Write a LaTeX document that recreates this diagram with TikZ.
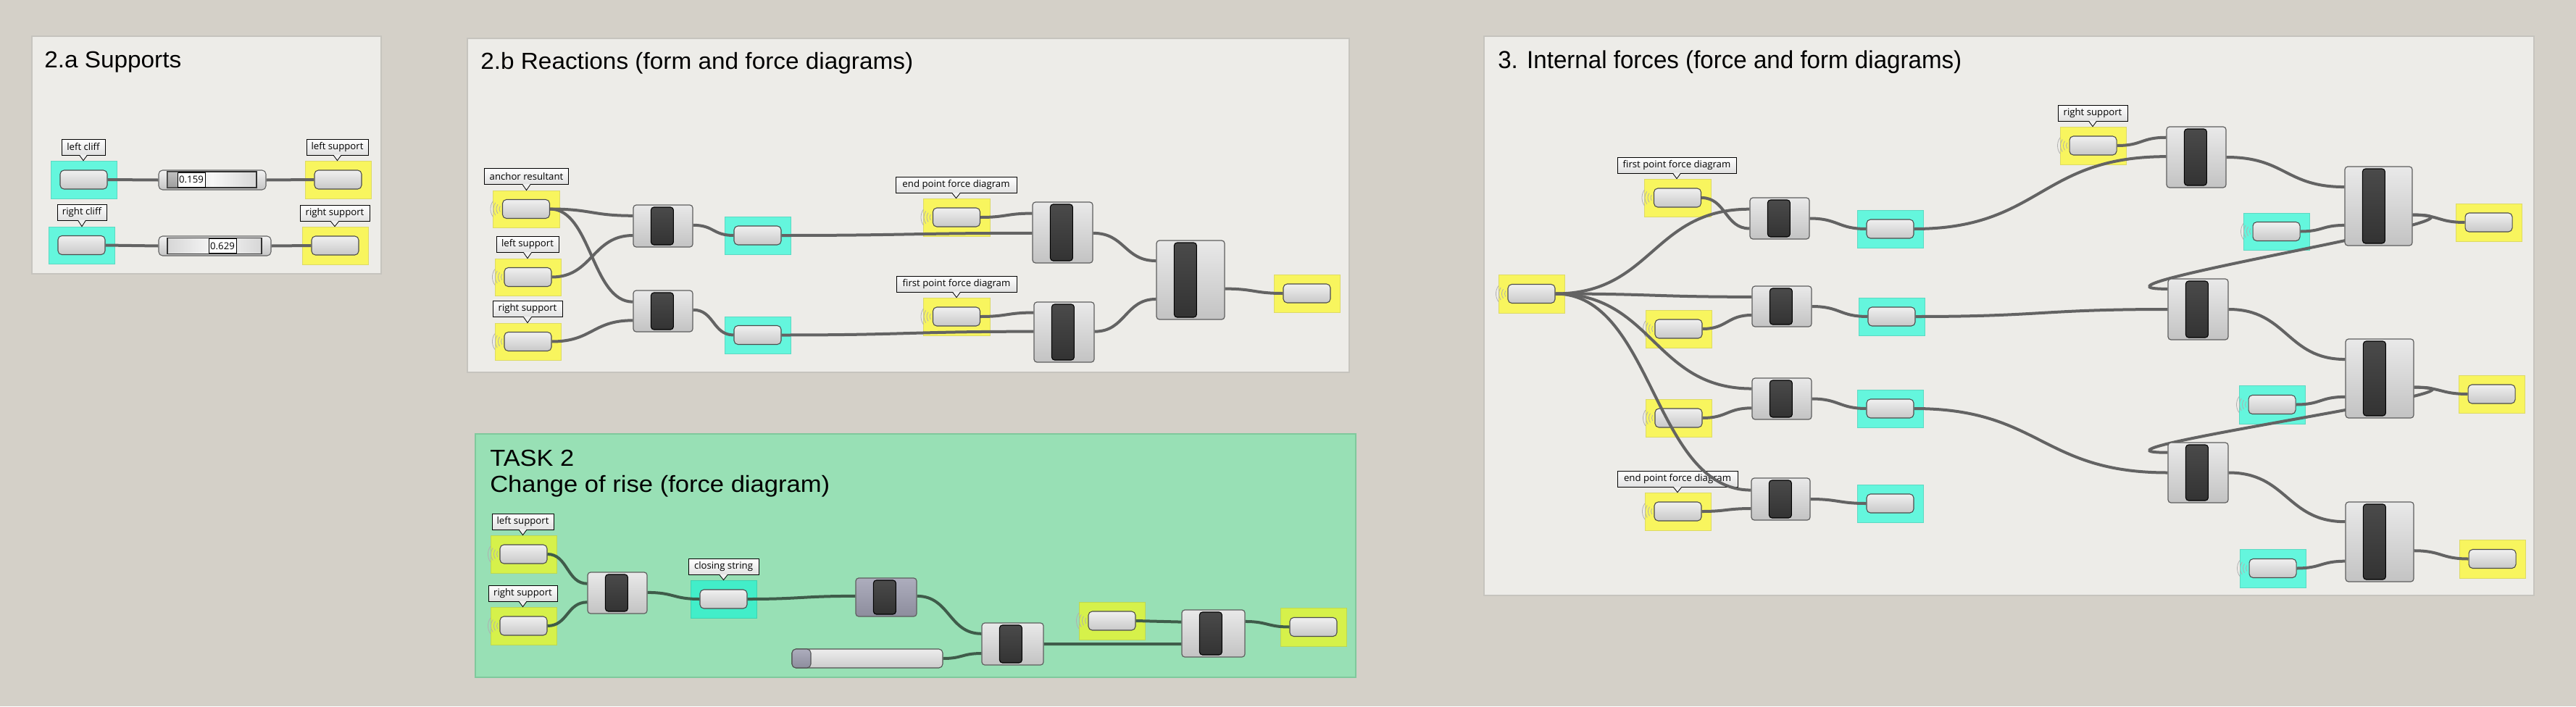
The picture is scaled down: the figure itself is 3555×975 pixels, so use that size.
\documentclass[tikz,border=0pt]{standalone}
\usepackage{fontspec}
\usepackage{graphicx}
\setmainfont{Liberation Sans}
\newfontfamily\lblfont{Open Sans}
\usetikzlibrary{calc}
\pgfdeclarelayer{bgl}
\pgfdeclarelayer{wl}
\pgfsetlayers{bgl,wl,main}
\newdimen\pxu \pxu=0.75pt
\definecolor{bg}{HTML}{D4D0C8}
\definecolor{panelfill}{HTML}{EDECE8}
\definecolor{panelline}{HTML}{C6C4BE}
\definecolor{greenfill}{HTML}{98E0B5}
\definecolor{greenline}{HTML}{7FC99C}
\definecolor{yfill}{HTML}{F8F55E}
\definecolor{yline}{HTML}{DDDA66}
\definecolor{cyfill}{HTML}{64F6DD}
\definecolor{cyline}{HTML}{5CD9C2}
\definecolor{lfill}{HTML}{D6F14A}
\definecolor{lline}{HTML}{BCD754}
\definecolor{gcyfill}{HTML}{42EEC9}
\definecolor{gcyline}{HTML}{3CD3B0}
\definecolor{wirec}{HTML}{636363}
\definecolor{gwirec}{HTML}{3F5C4A}
\definecolor{compTop}{HTML}{E9E9E9}
\definecolor{compBot}{HTML}{C3C3C3}
\definecolor{compline}{HTML}{5E5E5E}
\definecolor{barTop}{HTML}{4A4A4A}
\definecolor{barBot}{HTML}{333333}
\definecolor{pillTop}{HTML}{F0F0F0}
\definecolor{pillBot}{HTML}{C8C8C8}
\definecolor{pillline}{HTML}{4C4C4C}
\definecolor{disTop}{HTML}{ADADBD}
\definecolor{disBot}{HTML}{8D8D9D}
\definecolor{lblBot}{HTML}{E0E0E0}
\definecolor{arcc}{HTML}{B0B0B0}
\tikzset{
  sz/.style 2 args={minimum width=(#1)*0.75pt, minimum height=(#2)*0.75pt},
  panel/.style={draw=panelline, fill=panelfill, line width=1.2pt, inner sep=0, anchor=north west},
  panelg/.style={draw=greenline, fill=greenfill, line width=1.2pt, inner sep=0, anchor=north west},
  titletext/.style={anchor=base west, inner sep=0},
  ybox/.style={fill=yfill, draw=yline, line width=0.6pt, inner sep=0},
  cybox/.style={fill=cyfill, draw=cyline, line width=0.6pt, inner sep=0},
  lbox/.style={fill=lfill, draw=lline, line width=0.6pt, inner sep=0},
  gcbox/.style={fill=gcyfill, draw=gcyline, line width=0.6pt, inner sep=0},
  pill/.style={rounded corners=4pt, draw=pillline, line width=0.8pt, top color=pillTop, bottom color=pillBot, sz={65}{26}, inner sep=0},
  comp/.style={rounded corners=3pt, draw=compline, line width=0.9pt, top color=compTop, bottom color=compBot, inner sep=0},
  dis/.style={top color=disTop, bottom color=disBot},
  bar/.style={rounded corners=3pt, draw=black, line width=0.8pt, top color=barTop, bottom color=barBot, inner sep=0},
  lbl/.style={draw=black, line width=0.6pt, top color=white, bottom color=lblBot, inner sep=0, sz={60}{22}, font=\lblfont\fontsize{9.9}{11}\selectfont, text=black},
  valbox/.style={draw=black, line width=0.6pt, fill=white, inner sep=0, font=\lblfont\fontsize{9.9}{11}\selectfont},
  sliderbody/.style={rounded corners=4pt, draw=black!62, line width=0.8pt, top color=white!95!black, bottom color=white!77!black, inner sep=0},
  track/.style={draw=black!80, line width=0.8pt, left color=white!84!black, right color=white!84!black, middle color=white!97!black, inner sep=0},
  grip/.style={draw=black!60, line width=0.5pt, top color=white!75!black, bottom color=white!62!black, inner sep=0},
  slidertwo/.style={rounded corners=4pt, draw=black!68, line width=0.8pt, top color=white!93!black, bottom color=white!80!black, inner sep=0},
  griptwo/.style={rounded corners=4pt, draw=black!68, line width=0.8pt, top color=disTop, bottom color=disBot, inner sep=0},
  wire/.style={draw=wirec, line width=3pt},
  gw/.style={draw=gwirec},
  warc/.style={draw=arcc, line width=0.6pt}
}
\newcommand\Ttl[3][24]{\resizebox{#2\pxu}{\height}{\fontsize{#1}{#1}\selectfont #3}}
\newcommand\hub[6]{\node[#1,sz={#5}{#6}] (#2) at (#3,#4) {};
  \node[pill] (#2p) at (#2.center) {};}
\newcommand\comp[6][]{\node[comp,#1,sz={#5}{#6}] (#2) at (#3,#4) {};
  \node[bar,sz={31}{#6-6}] (#2b) at ($(#2.west)+(40.5,0)$) {};}
\newcommand\lbl[6]{\node[lbl, minimum width=#5*0.75pt] (#1) at (#3,#4) {#6};
  \fill[white!94!black] ([xshift=-4pt,yshift=0.7pt]#1.south) -- (#1.south |- #2.north) -- ([xshift=4pt,yshift=0.7pt]#1.south) -- cycle;
  \draw[line width=0.6pt] ([xshift=-4pt]#1.south) -- (#1.south |- #2.north) -- ([xshift=4pt]#1.south);}
\newcommand\wl[1]{\foreach \rr in {7,11,15,19}{\draw[warc] ($(#1.west)+(3,0)$) ++(145:\rr) arc[start angle=145,end angle=215,radius=\rr];}}
\newcommand\wire[4][]{\draw[wire,#1] #2 .. controls +(#4,0) and +(-#4,0) .. #3;}
\begin{document}
\begin{tikzpicture}[x=0.75pt,y=-0.75pt]
\begin{pgfonlayer}{bgl}
\fill[bg] (0,0) rectangle (3555,975);
\useasboundingbox (0,0) rectangle (3555,975);
% ---------- panels
\node[panel, sz={482}{328}] (p2a) at (43,49) {};
\node[panel, sz={1217}{461}] (p2b) at (644,52) {};
\node[panelg, sz={1215}{336}] (pt2) at (655,598) {};
\node[panel, sz={1449}{772}] (p3) at (2047,49) {};
\node[titletext] (t2a) at (61,93) {\Ttl{189}{2.a Supports}};
\node[titletext] (t2b) at (663,95) {\Ttl{597}{2.b Reactions (form and force diagrams)}};
\node[titletext] (tt2a) at (676,643) {\Ttl{116}{TASK 2}};
\node[titletext] (tt2b) at (676,679) {\Ttl{469}{Change of rise (force diagram)}};
\node[titletext] (t3) at (2067,94) {\Ttl[25.5]{640}{3. Internal forces (force and form diagrams)}};
% ---------- 2.a
\hub{cybox}{lc}{115.5}{248}{91}{52}
\hub{ybox}{ls}{466.5}{248}{91}{52}
\hub{cybox}{rc}{112.5}{338.5}{91}{51}
\hub{ybox}{rs}{462.5}{339}{91}{52}
\lbl{lcl}{lc}{115}{203}{60}{left cliff}
\lbl{lsl}{ls}{465.5}{203}{85}{left support}
\lbl{rcl}{rc}{113}{293}{68}{right cliff}
\lbl{rsl}{rs}{462}{294.5}{96}{right support}
% ---------- 2.b
\hub{ybox}{ar}{726}{288.5}{92}{51}
\hub{ybox}{bl}{728.5}{382.5}{91}{51}
\hub{ybox}{br}{728.5}{471.5}{91}{51}
\hub{cybox}{bca}{1045.5}{325}{91}{52}
\hub{cybox}{bcb}{1045.5}{462.5}{91}{51}
\hub{ybox}{ep}{1320}{300}{92}{52}
\hub{ybox}{fp}{1320}{437}{92}{52}
\hub{ybox}{bo}{1803.5}{405}{91}{52}
\wl{arp}\wl{blp}\wl{brp}\wl{epp}\wl{fpp}
\lbl{arl}{ar}{726.5}{243.5}{116}{anchor resultant}
\lbl{bll}{bl}{728}{337.5}{86}{left support}
\lbl{brl}{br}{728}{426.5}{96}{right support}
\lbl{epl}{ep}{1319.5}{255.5}{167}{end point force diagram}
\lbl{fpl}{fp}{1320}{392}{166}{first point force diagram}
% ---------- TASK 2
\hub{lbox}{tls}{722.5}{765}{91}{52}
\hub{lbox}{trs}{722.5}{864}{91}{52}
\hub{gcbox}{tcs}{998.5}{827}{91}{52}
\hub{lbox}{td}{1534.5}{857}{91}{52}
\hub{lbox}{tf}{1812.5}{865.5}{91}{53}
\wl{tlsp}\wl{trsp}\wl{tdp}
\lbl{tlsl}{tls}{721.5}{720}{85}{left support}
\lbl{trsl}{trs}{721.5}{819}{95}{right support}
\lbl{tcsl}{tcs}{998.5}{782.5}{97}{closing string}
% ---------- 3
\hub{ybox}{src}{2113.5}{405.5}{91}{53}
\hub{ybox}{ya}{2315}{273}{92}{52}
\hub{ybox}{yb}{2316.5}{454}{91}{52}
\hub{ybox}{yc}{2316.5}{577}{91}{52}
\hub{ybox}{yd}{2315.5}{706}{91}{52}
\hub{cybox}{ha}{2608.5}{316}{91}{52}
\hub{cybox}{hb}{2610.5}{437}{91}{52}
\hub{cybox}{hc}{2608.5}{564}{91}{52}
\hub{cybox}{hd}{2608.5}{695}{91}{52}
\hub{ybox}{rsy}{2888.5}{201}{91}{52}
\hub{cybox}{ca}{3141.5}{319.5}{91}{51}
\hub{cybox}{cb}{3135.5}{558.5}{91}{53}
\hub{cybox}{cc}{3136.5}{784.5}{91}{53}
\hub{ybox}{oa}{3434.5}{307}{91}{52}
\hub{ybox}{ob}{3438.5}{544}{91}{52}
\hub{ybox}{oc}{3439.5}{771.5}{91}{53}
\wl{srcp}\wl{yap}\wl{ybp}\wl{ycp}\wl{ydp}\wl{rsyp}\wl{cap}\wl{cbp}\wl{ccp}
\lbl{yal}{ya}{2314}{228}{164}{first point force diagram}
\lbl{ydl}{yd}{2315}{661.5}{166}{end point force diagram}
\lbl{rsyl}{rsy}{2888}{156}{96}{right support}
\end{pgfonlayer}
% ---------- components (main layer)
% 2.a sliders
\node[sliderbody, sz={148}{27}] (sa) at (293,248.5) {};
\node[track, sz={123}{22}] (sat) at (292.5,248) {};
\node[grip, sz={14}{21}] (sag) at (238,248) {};
\node[valbox, sz={38}{20}] (sav) at (264,248) {0.159};
\node[sliderbody, sz={155}{27}] (sb) at (296.5,339.5) {};
\node[track, sz={130}{22}] (sbt) at (296,339.5) {};
\node[valbox, sz={38}{20}] (sbv) at (307,339.5) {0.629};
% 2.b
\comp{ca1}{915}{312}{82}{58}
\comp{ca2}{915}{429.5}{82}{57}
\comp{ca3}{1466.5}{321}{83}{84}
\comp{ca4}{1468.5}{458.5}{83}{83}
\comp{ca5}{1643}{386.5}{94}{109}
% TASK 2
\comp{ta}{852}{818.5}{82}{57}
\comp[dis]{tb}{1223}{824.5}{84}{53}
\comp{tc}{1397.5}{889}{85}{58}
\comp{te}{1674.5}{874.5}{87}{65}
\node[slidertwo, sz={208}{26}] (tsl) at (1197,909) {};
\node[griptwo, sz={26}{26}, anchor=west] (tslg) at (tsl.west) {};
% 3
\comp{ga}{2456}{301.5}{82}{57}
\comp{gb}{2459}{423}{82}{56}
\comp{gc}{2459}{550.5}{82}{57}
\comp{gd}{2457.5}{689}{81}{58}
\comp{ka}{3031}{217}{82}{84}
\comp{kb}{3033.5}{427}{83}{84}
\comp{kc}{3033.5}{652.5}{83}{83}
\comp{la}{3282.5}{284.5}{93}{109}
\comp{lb}{3284}{522.5}{94}{109}
\comp{lcc}{3284}{748}{94}{110}
% ---------- wires
\begin{pgfonlayer}{wl}
% 2.a
\wire{(lcp.east)}{(sa.west)}{35}
\wire{(sa.east)}{(lsp.west)}{33}
\wire{(rcp.east)}{(sb.west)}{37}
\wire{(sb.east)}{(rsp.west)}{28}
% 2.b
\wire{(arp.east)}{($(ca1.north west)!.26!(ca1.south west)$)}{57}
\wire{(arp.east)}{($(ca2.north west)!.28!(ca2.south west)$)}{57}
\wire{(blp.east)}{($(ca1.north west)!.72!(ca1.south west)$)}{56}
\wire{(brp.east)}{($(ca2.north west)!.72!(ca2.south west)$)}{56}
\wire{($(ca1.north east)!.48!(ca1.south east)$)}{(bcap.west)}{29}
\wire{($(ca2.north east)!.47!(ca2.south east)$)}{(bcbp.west)}{29}
\wire{(bcap.east)}{($(ca3.north west)!.51!(ca3.south west)$)}{170}
\wire{(epp.east)}{($(ca3.north west)!.19!(ca3.south west)$)}{36}
\wire{(bcbp.east)}{($(ca4.north west)!.49!(ca4.south west)$)}{175}
\wire{(fpp.east)}{($(ca4.north west)!.18!(ca4.south west)$)}{37}
\wire{($(ca3.north east)!.51!(ca3.south east)$)}{($(ca5.north west)!.26!(ca5.south west)$)}{44}
\wire{($(ca4.north east)!.49!(ca4.south east)$)}{($(ca5.north west)!.74!(ca5.south west)$)}{43}
\wire{($(ca5.north east)!.61!(ca5.south east)$)}{(bop.west)}{40}
% TASK 2
\wire[gw]{(tlsp.east)}{($(ta.north west)!.28!(ta.south west)$)}{28}
\wire[gw]{(trsp.east)}{($(ta.north west)!.72!(ta.south west)$)}{28}
\wire[gw]{($(ta.north east)!.49!(ta.south east)$)}{(tcsp.west)}{37}
\wire[gw]{(tcsp.east)}{($(tb.north west)!.47!(tb.south west)$)}{75}
\wire[gw]{($(tb.north east)!.47!(tb.south east)$)}{($(tc.north west)!.26!(tc.south west)$)}{45}
\wire[gw]{(tsl.east)}{($(tc.north west)!.72!(tc.south west)$)}{27}
\wire[gw]{($(tc.north east)!.5!(tc.south east)$)}{($(te.north west)!.72!(te.south west)$)}{95}
\wire[gw]{(tdp.east)}{($(te.north west)!.26!(te.south west)$)}{32}
\wire[gw]{($(te.north east)!.25!(te.south east)$)}{(tfp.west)}{30}
% 3
\wire{(srcp.east)}{($(ga.north west)!.28!(ga.south west)$)}{134}
\wire{(yap.east)}{($(ga.north west)!.74!(ga.south west)$)}{34}
\wire{(srcp.east)}{($(gb.north west)!.27!(gb.south west)$)}{135}
\wire{(ybp.east)}{($(gb.north west)!.71!(gb.south west)$)}{34}
\wire{(srcp.east)}{($(gc.north west)!.26!(gc.south west)$)}{135}
\wire{(ycp.east)}{($(gc.north west)!.72!(gc.south west)$)}{34}
\wire{(srcp.east)}{($(gd.north west)!.29!(gd.south west)$)}{135}
\wire{(ydp.east)}{($(gd.north west)!.72!(gd.south west)$)}{34}
\wire{($(ga.north east)!.5!(ga.south east)$)}{(hap.west)}{39}
\wire{($(gb.north east)!.5!(gb.south east)$)}{(hbp.west)}{39}
\wire{($(gc.north east)!.5!(gc.south east)$)}{(hcp.west)}{37}
\wire{($(gd.north east)!.5!(gd.south east)$)}{(hdp.west)}{38}
\wire{(hap.east)}{($(ka.north west)!.49!(ka.south west)$)}{175}
\wire{(rsyp.east)}{($(ka.north west)!.18!(ka.south west)$)}{35}
\wire{($(ka.north east)!.5!(ka.south east)$)}{($(la.north west)!.26!(la.south west)$)}{82}
\wire{(cap.east)}{($(la.north west)!.74!(la.south west)$)}{31}
\wire{($(la.north east)!.61!(la.south east)$)}{(oap.west)}{37}
\wire{($(la.north east)!.61!(la.south east)$)}{($(kb.north west)!.17!(kb.south west)$)}{160}
\wire{(hbp.east)}{($(kb.north west)!.5!(kb.south west)$)}{175}
\wire{($(kb.north east)!.5!(kb.south east)$)}{($(lb.north west)!.26!(lb.south west)$)}{81}
\wire{(cbp.east)}{($(lb.north west)!.73!(lb.south west)$)}{35}
\wire{($(lb.north east)!.61!(lb.south east)$)}{(obp.west)}{37}
\wire{($(lb.north east)!.61!(lb.south east)$)}{($(kc.north west)!.17!(kc.south west)$)}{160}
\wire{(hcp.east)}{($(kc.north west)!.5!(kc.south west)$)}{175}
\wire{($(kc.north east)!.5!(kc.south east)$)}{($(lcc.north west)!.25!(lcc.south west)$)}{81}
\wire{(ccp.east)}{($(lcc.north west)!.74!(lcc.south west)$)}{34}
\wire{($(lcc.north east)!.61!(lcc.south east)$)}{(ocp.west)}{38}
\end{pgfonlayer}
\end{tikzpicture}
\end{document}
